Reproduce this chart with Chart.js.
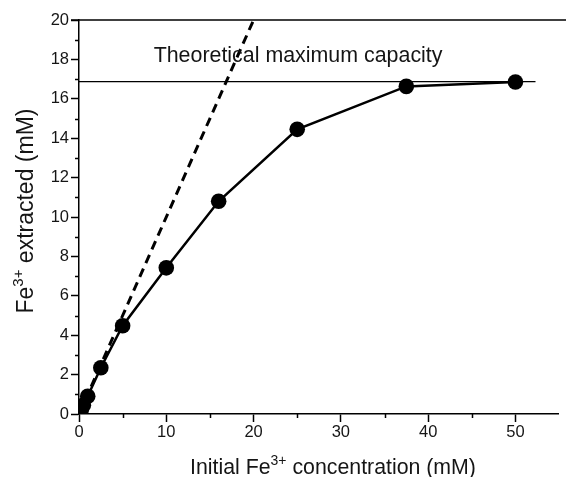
<!DOCTYPE html>
<html>
<head>
<meta charset="utf-8">
<script src="https://cdn.jsdelivr.net/npm/chart.js@4.4.0/dist/chart.umd.min.js"></script>
<style>
    html, body { margin: 0; padding: 0; background: #fff; overflow: hidden; }
    canvas { display: block; }
</style>
</head>
<body>
<canvas id="chart" width="566" height="477"></canvas>
<script>
// Data
const concentration = [0.25, 0.5, 1, 2.5, 5, 10, 16, 25, 37.5, 50];
const extracted = [0.2, 0.45, 0.9, 2.35, 4.48, 7.42, 10.8, 14.45, 16.63, 16.85];
const idealX = [0, 20];
const idealY = [0, 20];
const capacityX = [0, 52.3];
const capacityY = [16.87, 16.87];
const xTicks = [0, 10, 20, 30, 40, 50];
const xMinorTicks = [5, 15, 25, 35, 45];
const yTicks = [0, 2, 4, 6, 8, 10, 12, 14, 16, 18, 20];
const yMinorTicks = [1, 3, 5, 7, 9, 11, 13, 15, 17, 19];
const capacityLabel = "Theoretical maximum capacity";
const xTitle = ["Initial Fe", "3+", " concentration (mM)"];
const yTitle = ["Fe", "3+", " extracted (mM)"];

const FONT = '"Liberation Sans", Arial, sans-serif';
const INK = "#151515";

// Element
let chartElement = document.querySelector("#chart");

// Function
const toPoints = (xs, ys) => xs.map((x, i) => ({x: x, y: ys[i]}));

// text with a superscript in the middle, centred on cx
const drawSupText = (ctx, parts, cx, baseline, size) => {
    const big = size + "px " + FONT;
    const small = Math.round(size * 0.64) + "px " + FONT;
    ctx.font = big;
    let w0 = ctx.measureText(parts[0]).width;
    let w2 = ctx.measureText(parts[2]).width;
    ctx.font = small;
    let w1 = ctx.measureText(parts[1]).width;
    let x = cx - (w0 + w1 + w2) / 2;
    ctx.textAlign = "left";
    ctx.textBaseline = "alphabetic";
    ctx.font = big;
    ctx.fillText(parts[0], x, baseline);
    ctx.font = small;
    ctx.fillText(parts[1], x + w0, baseline - size * 0.42);
    ctx.font = big;
    ctx.fillText(parts[2], x + w0 + w1, baseline);
};

const extras = {
    id: "extras",
    afterDraw(chart) {
        const {ctx, chartArea: a, scales: {x, y}} = chart;
        ctx.save();
        ctx.strokeStyle = "#000";
        ctx.lineWidth = 1.5;
        // top frame
        ctx.beginPath();
        ctx.moveTo(a.left - 8, a.top);
        ctx.lineTo(chart.width, a.top);
        ctx.stroke();
        // minor ticks
        ctx.beginPath();
        xMinorTicks.forEach(v => {
            let px = Math.round(x.getPixelForValue(v)) + 0.5;
            ctx.moveTo(px, a.bottom);
            ctx.lineTo(px, a.bottom + 4);
        });
        yMinorTicks.forEach(v => {
            let py = Math.round(y.getPixelForValue(v)) + 0.5;
            ctx.moveTo(a.left, py);
            ctx.lineTo(a.left - 4, py);
        });
        ctx.stroke();

        ctx.fillStyle = INK;
        // annotation
        ctx.font = "21.4px " + FONT;
        ctx.textAlign = "left";
        ctx.textBaseline = "alphabetic";
        ctx.fillText(capacityLabel, x.getPixelForValue(8.55), y.getPixelForValue(17.87));

        // axis titles
        drawSupText(ctx, xTitle, 333, 474, 21.3);
        ctx.translate(33, 211);
        ctx.rotate(-Math.PI / 2);
        drawSupText(ctx, yTitle, 0, 0, 23);
        ctx.restore();
    }
};

new Chart(chartElement, {
    type: "scatter",
    data: {
        datasets: [
            {
                label: "Fe extracted",
                data: toPoints(concentration, extracted),
                showLine: true,
                borderColor: "#000",
                borderWidth: 2.5,
                pointRadius: 7.8,
                pointHoverRadius: 7.8,
                pointBackgroundColor: "#000",
                pointBorderWidth: 0
            },
            {
                label: "Ideal",
                data: toPoints(idealX, idealY),
                showLine: true,
                borderColor: "#000",
                borderWidth: 3,
                borderDash: [9, 6],
                pointRadius: 0
            },
            {
                label: "Capacity",
                data: toPoints(capacityX, capacityY),
                showLine: true,
                borderColor: "#000",
                borderWidth: 1.3,
                pointRadius: 0
            }
        ]
    },
    options: {
        responsive: false,
        animation: false,
        devicePixelRatio: 1,
        layout: {
            padding: {top: 20, right: 0, left: 0, bottom: 0}
        },
        plugins: {
            legend: {display: false},
            tooltip: {enabled: false}
        },
        scales: {
            x: {
                type: "linear",
                min: 0,
                max: 54.9,
                afterBuildTicks: scale => {
                    scale.ticks = xTicks.map(v => ({value: v}));
                },
                afterFit: scale => {
                    scale.height = 63;
                    scale.paddingLeft = 0;
                    scale.paddingRight = 0;
                },
                ticks: {
                    color: INK,
                    font: {family: FONT, size: 16.5},
                    padding: 1
                },
                grid: {
                    drawOnChartArea: false,
                    tickLength: 8,
                    tickColor: "#000",
                    tickWidth: 1.5
                },
                border: {color: "#000", width: 1.5}
            },
            y: {
                min: 0,
                max: 20,
                afterBuildTicks: scale => {
                    scale.ticks = yTicks.map(v => ({value: v}));
                },
                afterFit: scale => {
                    scale.width = 79;
                },
                ticks: {
                    color: INK,
                    font: {family: FONT, size: 16.5},
                    padding: 2
                },
                grid: {
                    drawOnChartArea: false,
                    tickLength: 8,
                    tickColor: "#000",
                    tickWidth: 1.5
                },
                border: {color: "#000", width: 1.5}
            }
        }
    },
    plugins: [extras]
});
</script>
</body>
</html>
